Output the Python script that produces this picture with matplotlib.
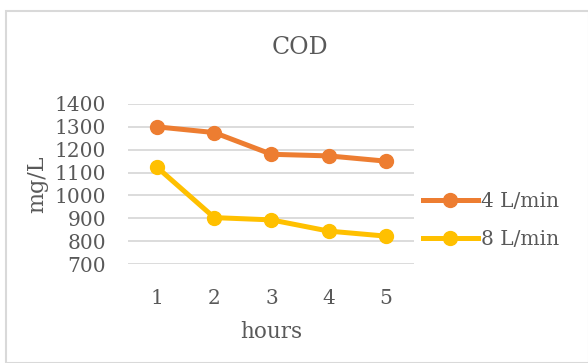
"""
COD over time at two aeration flow rates.
"""

import matplotlib.pyplot as plt
from matplotlib.patches import Rectangle

hours = [1, 2, 3, 4, 5]
cod_4lpm = [1300, 1275, 1180, 1173, 1150]
cod_8lpm = [1123, 903, 893, 844, 822]
series_labels = ["4 L/min", "8 L/min"]
y_ticks = [700, 800, 900, 1000, 1100, 1200, 1300, 1400]

TEXT = "#595959"
GRID = "#D9D9D9"

plt.rcParams.update({
    "font.family": "DejaVu Serif",
    "text.color": TEXT,
    "axes.labelcolor": TEXT,
    "xtick.color": TEXT,
    "ytick.color": TEXT,
})

fig = plt.figure(figsize=(5.88, 3.63), dpi=100)
fig.patches.append(Rectangle((0.011, 0.0), 0.99, 0.97, transform=fig.transFigure,
                             fill=False, edgecolor=GRID, lw=1.5))

ax = fig.add_axes([0.2185, 0.2727, 0.4864, 0.4408])
ax.set_xlim(0.5, 5.5)
ax.set_ylim(700, 1400)
ax.set_yticks(y_ticks)
ax.set_xticks(hours)
ax.grid(axis="y", color=GRID, lw=1.3)
ax.set_axisbelow(True)
for s in ax.spines.values():
    s.set_visible(False)
ax.tick_params(length=0, labelsize=14.5)
ax.tick_params(axis="y", pad=16)
ax.tick_params(axis="x", pad=18)

for vals, col, lab in zip([cod_4lpm, cod_8lpm], ["#ED7D31", "#FFC000"], series_labels):
    ax.plot(hours, vals, color=col, lw=3.6, marker="o", ms=10,
            label=lab, clip_on=False, zorder=3)

fig.text(300 / 588, 1 - 48 / 363, "COD", fontsize=17, ha="center", va="center")
ax.set_xlabel("hours", fontsize=15.5, labelpad=9)
ax.set_ylabel("mg/L", fontsize=16, labelpad=5)

ax.legend(loc="center left", bbox_to_anchor=(1.0, 0.272), frameon=False,
          fontsize=14.5, handlelength=2.75, handletextpad=0.15, labelspacing=0.95,
          borderaxespad=0.0, borderpad=0.4)

fig.savefig("out.png", dpi=100)
